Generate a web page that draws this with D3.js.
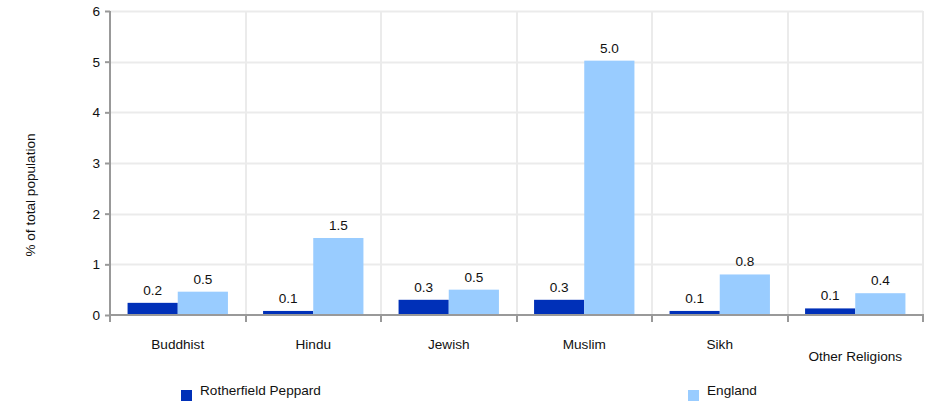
<!DOCTYPE html>
<html><head><meta charset="utf-8">
<script src="https://cdn.jsdelivr.net/npm/d3@7"></script>
<style>body{margin:0;background:#fff;}text{font-family:"Liberation Sans",Arial,sans-serif;fill:#111;}</style>
</head><body><svg id="c" width="928" height="404"></svg>
<script>
const categories = ["Buddhist","Hindu","Jewish","Muslim","Sikh","Other Religions"];
const seriesNames = ["Rotherfield Peppard","England"];
const local = [0.24,0.08,0.3,0.3,0.08,0.13];
const england = [0.46,1.52,0.5,5.02,0.8,0.43];
const yTicks = [0,1,2,3,4,5,6];
const colors = ["#0030b8","#99ccff"];

const svg = d3.select("#c");
const m = {l:110, r:923, t:11, b:315};
const fs = 13.6;
const x = d3.scaleBand().domain(categories).range([m.l, m.r]).paddingInner(0).paddingOuter(0);
const x1 = d3.scaleBand().domain(seriesNames).range([0, x.bandwidth()]).paddingInner(0).paddingOuter(0.35);
const y = d3.scaleLinear().domain([0,6]).range([m.b, m.t]);

// gridlines
const g = svg.append("g");
g.selectAll("line.h").data(yTicks.slice(1)).join("line")
  .attr("x1",m.l).attr("x2",m.r).attr("y1",d=>Math.round(y(d))+0.5).attr("y2",d=>Math.round(y(d))+0.5)
  .attr("stroke","#ebebeb").attr("stroke-width",2);
const bounds = categories.map(c=>Math.round(x(c)+x.bandwidth()));
g.selectAll("line.v").data(bounds).join("line")
  .attr("x1",d=>d).attr("x2",d=>d).attr("y1",m.t).attr("y2",m.b)
  .attr("stroke","#ebebeb").attr("stroke-width",2);

// bars
const data = categories.map((c,i)=>({c, vals:[local[i], england[i]]}));
const grp = svg.append("g").selectAll("g").data(data).join("g").attr("transform",d=>`translate(${x(d.c)},0)`);
grp.selectAll("rect").data(d=>d.vals.map((v,j)=>({s:seriesNames[j],v,j}))).join("rect")
  .attr("x",d=>x1(d.s)).attr("width",x1.bandwidth())
  .attr("y",d=>y(d.v)).attr("height",d=>y(0)-y(d.v))
  .attr("fill",d=>colors[d.j]);
grp.selectAll("text").data(d=>d.vals.map((v,j)=>({s:seriesNames[j],v,j}))).join("text")
  .attr("x",d=>x1(d.s)+x1.bandwidth()/2).attr("y",d=>y(d.v)-8)
  .attr("text-anchor","middle").attr("font-size",fs)
  .text(d=>d3.format(".1f")(d.v));

// y axis
const yAxis = d3.axisLeft(y).tickValues(yTicks).tickSize(5).tickPadding(5).tickFormat(d3.format("d"));
const ya = svg.append("g").attr("transform",`translate(${m.l},0)`).call(yAxis);
ya.select(".domain").attr("stroke","#999").attr("stroke-width",2).attr("d",`M0,${m.t}V${m.b+7}`);
ya.selectAll(".tick line").attr("stroke","#999").attr("stroke-width",2);
ya.selectAll(".tick text").attr("font-size",fs).attr("fill","#111").attr("font-family","Liberation Sans, Arial, sans-serif");

// x axis
const xa = svg.append("g");
xa.append("line").attr("x1",m.l).attr("x2",m.r+1).attr("y1",m.b).attr("y2",m.b).attr("stroke","#999").attr("stroke-width",2);
xa.selectAll("line.t").data(bounds).join("line")
  .attr("x1",d=>d).attr("x2",d=>d).attr("y1",m.b).attr("y2",m.b+7).attr("stroke","#999").attr("stroke-width",2);
xa.selectAll("text").data(categories).join("text")
  .attr("x",d=>x(d)+x.bandwidth()/2).attr("y",(d,i)=>i===categories.length-1?361:349)
  .attr("text-anchor","middle").attr("font-size",fs).text(d=>d);

// y label
svg.append("text").attr("transform","translate(35,195) rotate(-90)")
  .attr("text-anchor","middle").attr("font-size",fs).text("% of total population");

// legend
const legX = [181, 688];
const lg = svg.append("g").selectAll("g").data(seriesNames).join("g")
  .attr("transform",(d,i)=>`translate(${legX[i]},390)`);
lg.append("rect").attr("width",11).attr("height",11).attr("fill",(d,i)=>colors[i]);
lg.append("text").attr("x",19).attr("y",5).attr("font-size",fs).text(d=>d);
</script></body></html>
